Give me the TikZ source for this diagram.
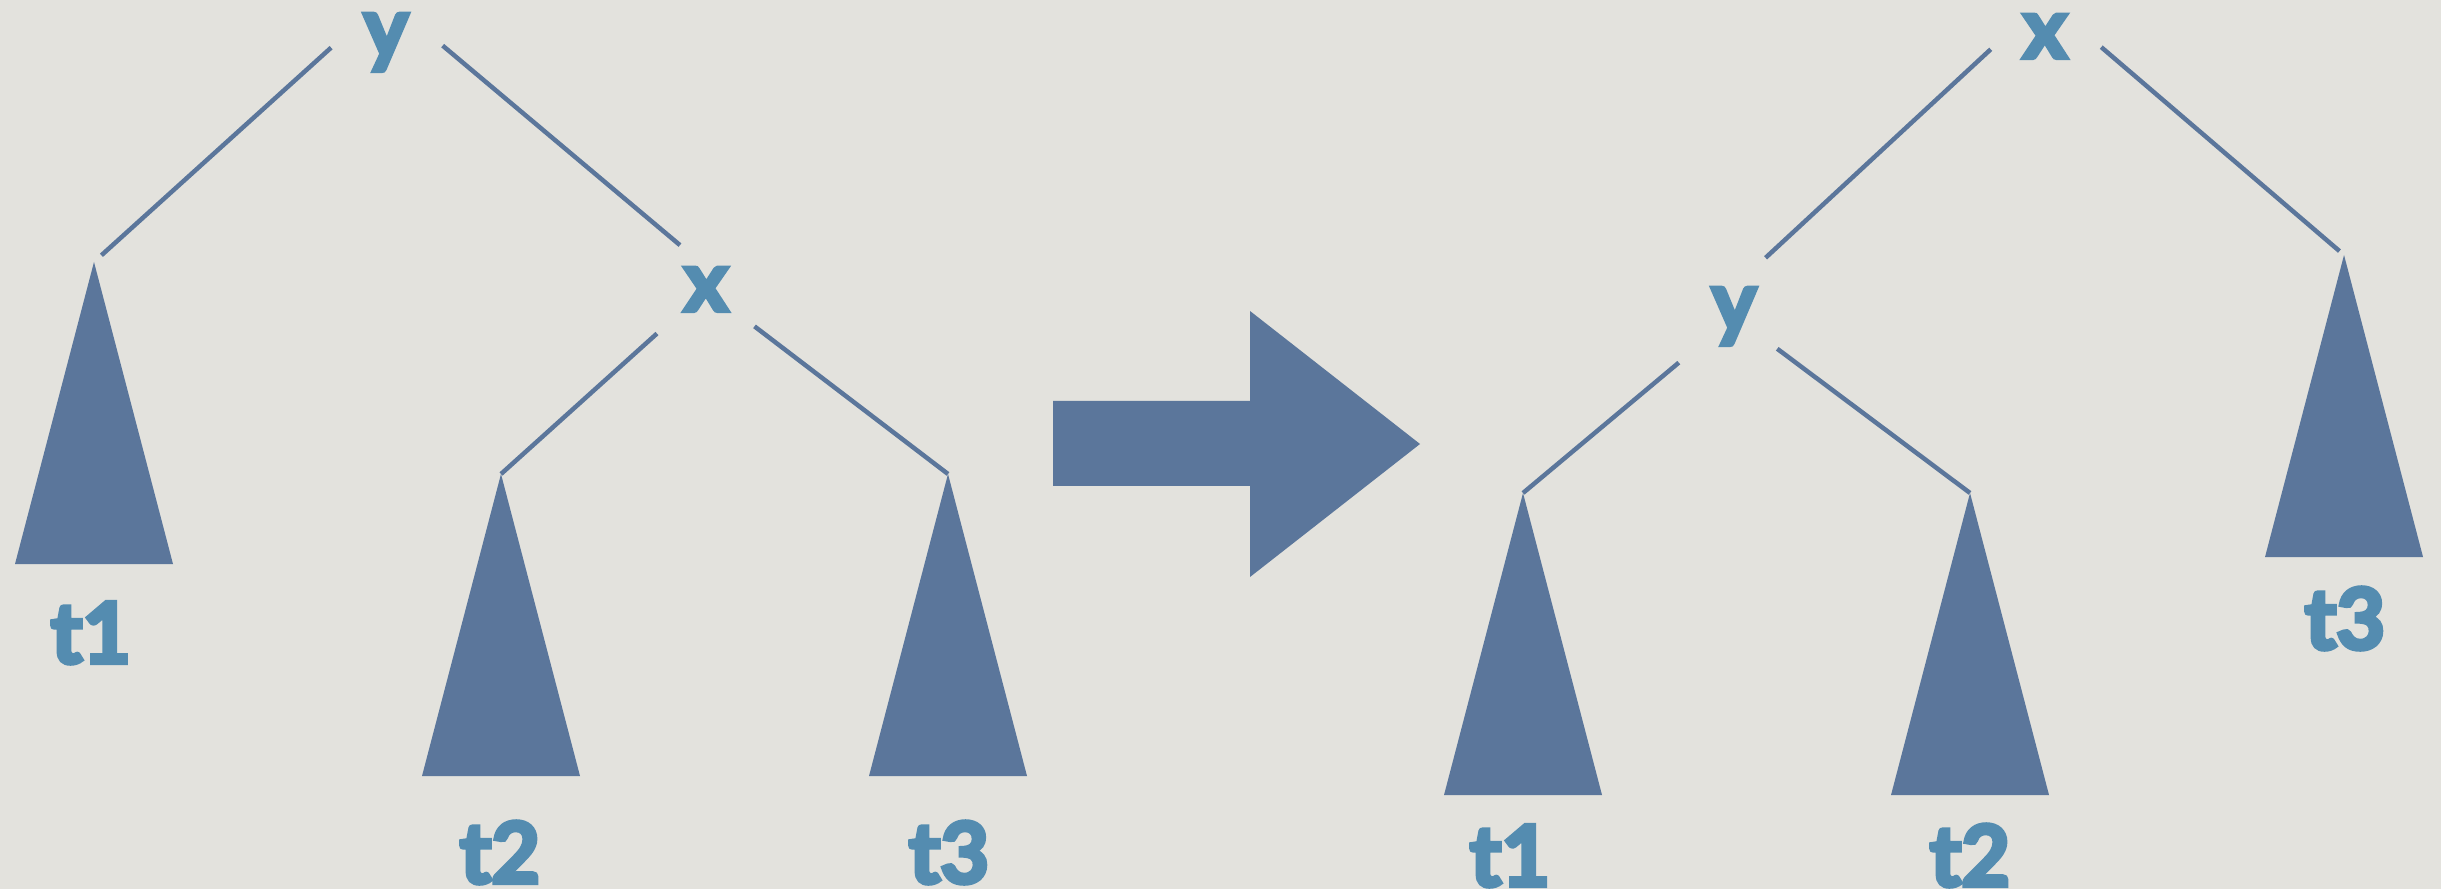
\documentclass[tikz,border=0pt]{standalone}
\usepackage{fontspec}
\setmainfont{Lato}[BoldFeatures={FakeBold=5}]
\usetikzlibrary{positioning}
\definecolor{TreeBlue}{RGB}{91,118,155}
\definecolor{KeyBlue}{RGB}{84,140,176}
\definecolor{Paper}{RGB}{227,226,221}

\tikzset{
  key/.style={text=KeyBlue, font=\bfseries\fontsize{24}{24}\selectfont, inner sep=0pt, anchor=base},
  root/.style={key, inner ysep=1.5mm},
  edge/.style={draw=TreeBlue, line width=0.45mm},
  subtree/.style={fill=TreeBlue},
}

\begin{document}
\begin{tikzpicture}[x=0.1mm, y=-0.1mm]
    % Paper background
    \fill[Paper] (0,0) rectangle (2441,889);
    \useasboundingbox (0,0) rectangle (2441,889);
    % Subtree triangles, apex first
    \foreach \name/\px/\py in {t1A/94/262, t2A/501/474, t3A/948/474, t1B/1523/493, t2B/1970/493, t3B/2344/255}{
        \coordinate (\name) at (\px,\py);
        \fill[subtree] (\name) -- ++(-79,302) -- ++(158,0) -- cycle;
    }
    % Left tree: y at the root, x as right child
    \node[root] (yA) at (386,57) {y};
    \node[key] (xA) at (706,311) {x};
    \node[key] (t1Alabel) at (91,663) {t1};
    \node[key] (t2Alabel) at (500,883) {t2};
    \node[key] (t3Alabel) at (949,883) {t3};
    \draw[edge, shorten <=7.4mm, shorten >=1mm] (yA.north) -- (t1A);
    \draw[edge, shorten <=7.4mm, shorten >=3.4mm] (yA.north) -- (xA.north);
    \draw[edge, shorten <=6.6mm] (xA.center) -- (t2A);
    \draw[edge, shorten <=6.1mm] (xA.center) -- (t3A);
    % Rotation arrow
    \fill[TreeBlue] (1053,401) -- (1250,401) -- (1250,311) -- (1420,444) -- (1250,577) -- (1250,486) -- (1053,486) -- cycle;
    % Right tree: x at the root, y as left child
    \node[root] (xB) at (2045,58) {x};
    \node[key] (yB) at (1734,331) {y};
    \node[key] (t1Blabel) at (1510,886) {t1};
    \node[key] (t2Blabel) at (1970,886) {t2};
    \node[key] (t3Blabel) at (2345,649) {t3};
    \draw[edge, shorten <=7.4mm, shorten >=0.6mm] (xB.north) -- (t3B);
    \draw[edge, shorten <=7.4mm, shorten >=4.3mm] (xB.north) -- (yB.north);
    \draw[edge, shorten <=7.2mm] (yB.center) -- (t1B);
    \draw[edge, shorten <=5.4mm] (yB.center) -- (t2B);
\end{tikzpicture}
\end{document}
